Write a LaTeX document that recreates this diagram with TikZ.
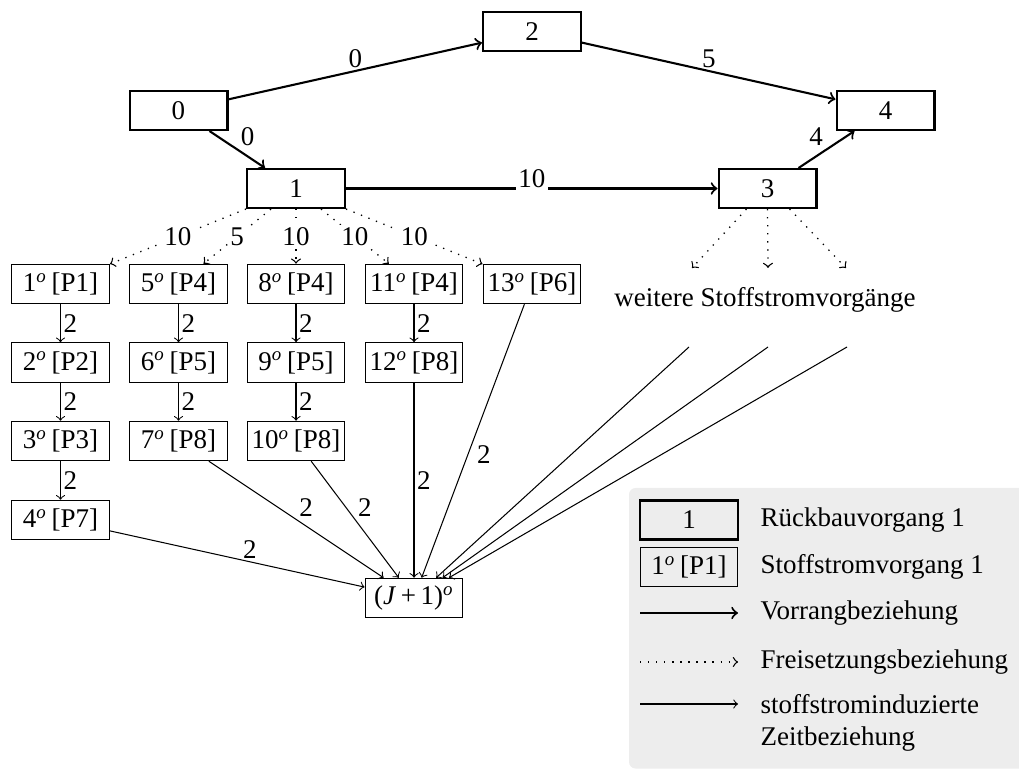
\documentclass[tikz,border=0pt]{standalone}
\usepackage{fontspec}
\setmainfont{Liberation Serif}
\usetikzlibrary{calc}
\newcommand{\so}{\textsuperscript{\textit{o}}}
\begin{document}
\begin{tikzpicture}[x=0.385pt,y=-0.385pt,
  font=\fontsize{10.4}{12.4}\selectfont,
  rb/.style={draw, thick, minimum width=37.7pt, minimum height=15pt, inner sep=0pt},
  sv/.style={draw, minimum width=37.7pt, minimum height=15.2pt, inner sep=0pt},
  vr/.style={->, thick},
  fr/.style={->, line width=0.5pt, dash pattern=on 0.5pt off 2.6pt},
  sz/.style={->},
  lbl/.style={inner sep=1pt},
  wl/.style={fill=white, inner sep=1pt},
  lt/.style={anchor=west, inner sep=0pt}]
\useasboundingbox (0,0) rectangle (1019,769);
% legend background
\fill[black!7, rounded corners=2.5pt] (629,488) rectangle (1040,768.5);
% top nodes
\node[rb] (n0) at (178.5,110.5) {0};
\node[rb] (n2) at (532,31.5) {2};
\node[rb] (n4) at (885.5,110.5) {4};
\node[rb] (n1) at (296,188.5) {1};
\node[rb] (n3) at (767.5,188.5) {3};
% material flow nodes
\node[sv] (a1) at (60.5,284) {1\so\,[P1]};
\node[sv] (a2) at (60.5,362.5) {2\so\,[P2]};
\node[sv] (a3) at (60.5,441) {3\so\,[P3]};
\node[sv] (a4) at (60.5,520) {4\so\,[P7]};
\node[sv] (b1) at (178.5,284) {5\so\,[P4]};
\node[sv] (b2) at (178.5,362.5) {6\so\,[P5]};
\node[sv] (b3) at (178.5,441) {7\so\,[P8]};
\node[sv] (c1) at (296,284) {8\so\,[P4]};
\node[sv] (c2) at (296,362.5) {9\so\,[P5]};
\node[sv] (c3) at (296,441) {10\so\,[P8]};
\node[sv] (d1) at (414,284) {11\so\,[P4]};
\node[sv] (d2) at (414,362.5) {12\so\,[P8]};
\node[sv] (e1) at (532,284) {13\so\,[P6]};
\node[sv] (J) at (414,598) {(\textit{J}\,+\,1)\so};
\node (wt) at (765,300) {weitere Stoffstromvorgänge};
% precedence
\draw[vr] (n0) -- node[above,lbl] {0} (n2);
\draw[vr] (n2) -- node[above,lbl] {5} (n4);
\draw[vr] (n0) -- node[above right,lbl] {0} (n1);
\draw[vr] (n1) -- node[wl,yshift=3.9pt] {10} (n3);
\draw[vr] (n3) -- node[above left,lbl] {4} (n4);
% release
\draw[fr] (n1.south west) -- node[wl] {10} (a1);
\draw[fr] ($(n1.south west)!0.25!(n1.south east)$) -- node[wl] {5} (b1);
\draw[fr] (n1.south) -- node[wl] {10} (c1);
\draw[fr] ($(n1.south west)!0.75!(n1.south east)$) -- node[wl] {10} (d1);
\draw[fr] (n1.south east) -- node[wl] {10} (e1);
\coordinate (f1) at (692,268);
\coordinate (f2) at (768,268);
\coordinate (f3) at (846,268);
\draw[fr] ($(n3.south)+(-21,0)$) -- (f1);
\draw[fr] (n3.south) -- (f2);
\draw[fr] ($(n3.south)+(22,0)$) -- (f3);
% chains
\draw[sz] (a1) -- node[right,lbl] {2} (a2);
\draw[sz] (a2) -- node[right,lbl] {2} (a3);
\draw[sz] (a3) -- node[right,lbl] {2} (a4);
\draw[sz] (b1) -- node[right,lbl] {2} (b2);
\draw[sz] (b2) -- node[right,lbl] {2} (b3);
\draw[sz] (c1) -- node[right,lbl] {2} (c2);
\draw[sz] (c2) -- node[right,lbl] {2} (c3);
\draw[sz] (d1) -- node[right,lbl] {2} (d2);
% to J
\draw[sz] (a4) -- node[pos=0.55,above,lbl] {2} (J);
\draw[sz] (b3) -- node[above right,lbl] {2} (J);
\draw[sz] (c3) -- node[above right,lbl] {2} (J);
\draw[sz] (d2) -- node[right,lbl] {2} (J);
\draw[sz] (e1) -- node[pos=0.55,right] {2} (J);
\coordinate (g1) at (689,347);
\coordinate (g2) at (768,347);
\coordinate (g3) at (847,347);
\draw[sz] (g1) -- (J);
\draw[sz] (g2) -- (J);
\draw[sz] (g3) -- (J);
% legend
\node[rb] (l1) at (689,520) {1};
\node[sv] (l2) at (689,567) {1\so\,[P1]};
\coordinate (l3a) at (640,613);
\coordinate (l3b) at (738,613);
\coordinate (l4a) at (640,662);
\coordinate (l4b) at (738,662);
\coordinate (l5a) at (640,704);
\coordinate (l5b) at (738,704);
\draw[vr] (l3a) -- (l3b);
\draw[fr] (l4a) -- (l4b);
\draw[sz] (l5a) -- (l5b);
\node[lt] (t1) at (760,520) {Rückbauvorgang 1};
\node[lt] (t2) at (760,567) {Stoffstromvorgang 1};
\node[lt] (t3) at (760,613) {Vorrangbeziehung};
\node[lt] (t4) at (760,662) {Freisetzungsbeziehung};
\node[lt,align=left] (t5) at (760,723) {stoffstrominduzierte\\Zeitbeziehung};
\end{tikzpicture}
\end{document}
